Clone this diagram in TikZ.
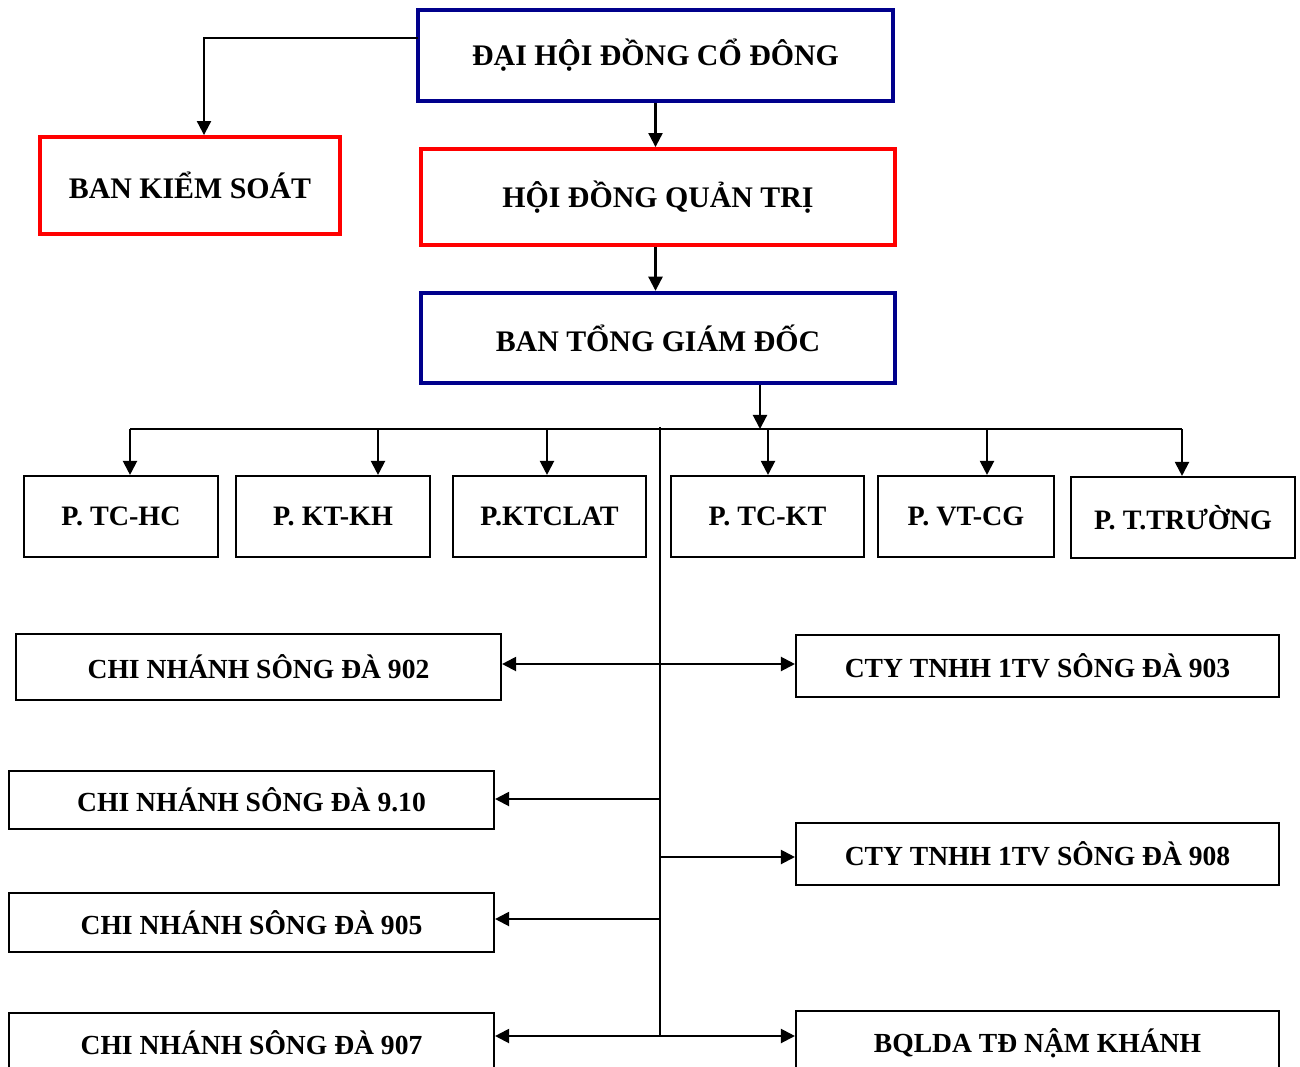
\documentclass[tikz,border=0pt]{standalone}
\usepackage{fontspec}
\setmainfont{Liberation Serif}
\usetikzlibrary{arrows.meta,calc}

\definecolor{navyline}{RGB}{0,0,140}
\definecolor{redline}{RGB}{255,0,0}

\tikzset{
    box/.style = {draw, inner sep = 0pt, font = \bfseries\fontsize{15.7}{18}\selectfont},
    topbox/.style = {box, draw = navyline, line width = 2.5pt, font = \bfseries\fontsize{17}{20}\selectfont},
    redbox/.style = {box, draw = redline, line width = 2.2pt, font = \bfseries\fontsize{17}{20}\selectfont},
    unitbox/.style = {box, line width = 1.2pt, minimum height = 81*0.02cm, font = \bfseries\fontsize{16}{19}\selectfont},
    branchbox/.style = {box, line width = 1.2pt},
    arr/.style = {line width = 1.2pt, -{Triangle[length = 8pt, width = 8pt]}},
    link/.style = {line width = 1.2pt}
}

\begin{document}
\begin{tikzpicture}[x = 0.02cm, y = -0.02cm]
    \useasboundingbox (0, 0) rectangle (1300, 1067);
    \clip (0, 0) rectangle (1300, 1067);

    % top levels
    \node[topbox, minimum width = 475*0.02cm, minimum height = 91*0.02cm] (dhd) at (655.5, 55.5) {ĐẠI HỘI ĐỒNG CỔ ĐÔNG};
    \node[redbox, minimum width = 300*0.02cm, minimum height = 97*0.02cm] (bks) at (190, 185.5) {BAN KIỂM SOÁT};
    \node[redbox, minimum width = 474*0.02cm, minimum height = 96*0.02cm] (hdqt) at (658, 197) {HỘI ĐỒNG QUẢN TRỊ};
    \node[topbox, minimum width = 474*0.02cm, minimum height = 90*0.02cm] (btgd) at (658, 338) {BAN TỔNG GIÁM ĐỐC};

    % departments
    \node[unitbox, minimum width = 194*0.02cm] (tchc) at (121, 516.5) {P. TC-HC};
    \node[unitbox, minimum width = 194*0.02cm] (ktkh) at (333, 516.5) {P. KT-KH};
    \node[unitbox, minimum width = 193*0.02cm] (ktclat) at (549.5, 516.5) {P.KTCLAT};
    \node[unitbox, minimum width = 193*0.02cm] (tckt) at (767.5, 516.5) {P. TC-KT};
    \node[unitbox, minimum width = 176*0.02cm] (vtcg) at (966, 516.5) {P. VT-CG};
    \node[unitbox, minimum width = 224*0.02cm] (ttruong) at (1183, 517.5) {P. T.TRƯỜNG};

    % branches and subsidiaries
    \node[branchbox, minimum width = 485*0.02cm, minimum height = 66*0.02cm] (cn902) at (258.5, 667) {CHI NHÁNH SÔNG ĐÀ 902};
    \node[branchbox, minimum width = 485*0.02cm, minimum height = 58*0.02cm] (cn910) at (251.5, 800) {CHI NHÁNH SÔNG ĐÀ 9.10};
    \node[branchbox, minimum width = 485*0.02cm, minimum height = 59*0.02cm] (cn905) at (251.5, 922.5) {CHI NHÁNH SÔNG ĐÀ 905};
    \node[branchbox, minimum width = 485*0.02cm, minimum height = 60*0.02cm] (cn907) at (251.5, 1043) {CHI NHÁNH SÔNG ĐÀ 907};
    \node[branchbox, minimum width = 483*0.02cm, minimum height = 62*0.02cm] (cty903) at (1037.5, 666) {CTY TNHH 1TV SÔNG ĐÀ 903};
    \node[branchbox, minimum width = 483*0.02cm, minimum height = 62*0.02cm] (cty908) at (1037.5, 854) {CTY TNHH 1TV SÔNG ĐÀ 908};
    \node[branchbox, minimum width = 483*0.02cm, minimum height = 64*0.02cm] (bqlda) at (1037.5, 1043) {BQLDA TĐ NẬM KHÁNH};

    % connectors between levels
    \coordinate (kslink) at (418, 38);
    \draw[arr] (kslink) -| ($(bks.north) + (14, 0)$);
    \draw[arr] (dhd.south) -- (hdqt.north -| dhd.south);
    \draw[arr] (hdqt.south -| dhd.south) -- (btgd.north -| dhd.south);

    \coordinate (bus) at (760, 429);
    \coordinate (busleft) at (130, 429);
    \coordinate (busright) at (1182, 429);
    \draw[arr] (btgd.south -| bus) -- (bus);
    \draw[link] (busleft) -- (busright);
    \foreach \u/\x in {tchc/130, ktkh/378, ktclat/547, tckt/768, vtcg/987, ttruong/1182}{
        \draw[arr] (\x, 429) -- (\u.north -| \x, 0);
    }

    % trunk and side arrows
    \coordinate (trunktop) at (660, 427);
    \coordinate (trunkbot) at (660, 1036);
    \draw[link] (trunktop) -- (trunkbot);
    \foreach \n/\y in {cn902/664, cn910/799, cn905/919, cn907/1036}{
        \draw[arr] (660, \y) -- (\n.east |- 0, \y);
    }
    \foreach \n/\y in {cty903/664, cty908/857, bqlda/1036}{
        \draw[arr] (660, \y) -- (\n.west |- 0, \y);
    }
\end{tikzpicture}
\end{document}
